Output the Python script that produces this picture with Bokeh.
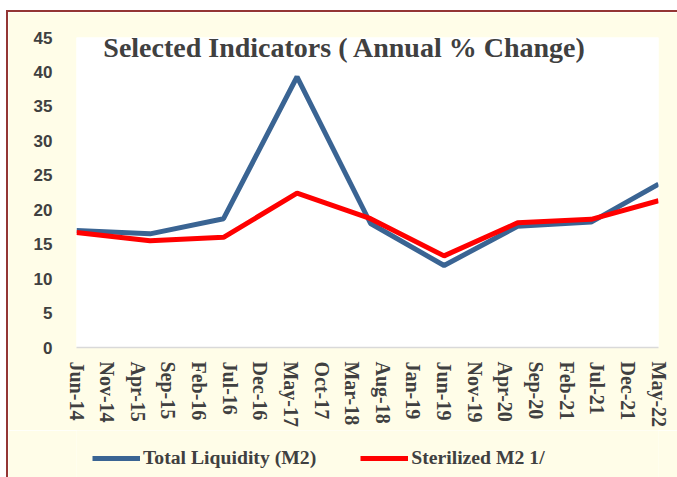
from bokeh.plotting import figure
from bokeh.layouts import column
from bokeh.models import (Range1d, FixedTicker, Label, Legend, LegendItem,
                          ColumnDataSource)
from bokeh.embed import file_html
from bokeh.resources import INLINE

# ---- data -------------------------------------------------------------
dates = ["Jun-14", "Jun-15", "Jun-16", "Jun-17", "Jun-18",
         "Jun-19", "Jun-20", "Jun-21", "May-22"]
total_liquidity = [17.0, 16.5, 18.7, 39.3, 18.0, 11.9, 17.6, 18.2, 23.7]
sterilized_m2 = [16.7, 15.5, 16.0, 22.4, 18.7, 13.3, 18.1, 18.6, 21.3]

tick_labels = ["Jun-14", "Nov-14", "Apr-15", "Sep-15", "Feb-16", "Jul-16",
               "Dec-16", "May-17", "Oct-17", "Mar-18", "Aug-18", "Jan-19",
               "Jun-19", "Nov-19", "Apr-20", "Sep-20", "Feb-21", "Jul-21",
               "Dec-21", "May-22"]
y_ticks = [0, 5, 10, 15, 20, 25, 30, 35, 40, 45]

series_names = ["Total Liquidity (M2)", "Sterilized M2 1/"]
title_text = "Selected Indicators ( Annual % Change)"

MONTHS = ["Jan", "Feb", "Mar", "Apr", "May", "Jun",
          "Jul", "Aug", "Sep", "Oct", "Nov", "Dec"]


def month_index(label, base="Jun-14"):
    def absm(s):
        m, y = s.split("-")
        return int(y) * 12 + MONTHS.index(m)
    return absm(label) - absm(base)


xs = [month_index(d) for d in dates]
tick_pos = [month_index(t) for t in tick_labels]

# ---- styles -----------------------------------------------------------
CREAM = "#FFFDE8"
TEXT = "#404040"
BLUE = "#3A6493"
RED = "#FF0000"
BORDER = "#943634"
SERIES_COLORS = [BLUE, RED]

W, H1, H2 = 669, 418, 47
p = figure(width=W, height=H1, output_backend="svg", toolbar_location=None,
           x_range=Range1d(tick_pos[0], tick_pos[-1]),
           y_range=Range1d(y_ticks[0], y_ticks[-1]),
           min_border_left=68, min_border_right=19,
           min_border_top=25, min_border_bottom=80)
p.border_fill_color = CREAM
p.background_fill_color = "white"
p.outline_line_color = None
p.xgrid.grid_line_color = None
p.ygrid.grid_line_color = None

# x axis
xa = p.xaxis[0]
xa.ticker = FixedTicker(ticks=tick_pos)
xa.major_label_overrides = {tp: lab for tp, lab in zip(tick_pos, tick_labels)}
xa.major_label_orientation = "vertical"
xa.major_label_text_font = "Liberation Serif"
xa.major_label_text_font_style = "bold"
xa.major_label_text_font_size = "20px"
xa.major_label_text_color = TEXT
xa.major_label_standoff = 8
xa.major_tick_line_color = None
xa.minor_tick_line_color = None
xa.axis_line_color = "#D9D9D9"
xa.axis_line_width = 1.5

# y axis
ya = p.yaxis[0]
ya.ticker = FixedTicker(ticks=y_ticks)
ya.major_label_text_font = "Liberation Sans"
ya.major_label_text_font_style = "bold"
ya.major_label_text_font_size = "17px"
ya.major_label_text_color = TEXT
ya.major_label_standoff = 18
ya.major_tick_line_color = None
ya.minor_tick_line_color = None
ya.axis_line_color = None

src = ColumnDataSource(dict(x=xs, tl=total_liquidity, sm=sterilized_m2))
p.line("x", "tl", source=src, line_color=BLUE, line_width=5)
p.line("x", "sm", source=src, line_color=RED, line_width=5)

# title inside the plot area
p.add_layout(Label(x=43.8, y=43.6, text=title_text, text_align="center",
                   text_baseline="alphabetic", text_font="Liberation Serif",
                   text_font_style="bold", text_font_size="28px",
                   text_color=TEXT))

# legend strip below the chart (series renderers lie outside its view)
lg = figure(width=W, height=H2, output_backend="svg", toolbar_location=None,
            x_axis_type=None, y_axis_type=None,
            x_range=Range1d(-1000, -999), y_range=Range1d(-1000, -999),
            min_border=0, min_border_left=0, min_border_right=0,
            min_border_top=0, min_border_bottom=0)
lg.border_fill_color = CREAM
lg.background_fill_color = CREAM
lg.outline_line_color = None
lg.xgrid.grid_line_color = None
lg.ygrid.grid_line_color = None
items = []
for name, col, key in zip(series_names, SERIES_COLORS, ["tl", "sm"]):
    r = lg.line("x", key, source=src, line_color=col, line_width=5)
    items.append(LegendItem(label=name, renderers=[r]))
legend = Legend(items=items, orientation="horizontal", location=(16, 8),
                glyph_width=48, glyph_height=20, label_height=20,
                label_standoff=3, spacing=44, padding=0, margin=0,
                background_fill_alpha=0, border_line_color=None,
                label_text_font="Liberation Serif", label_text_font_style="bold",
                label_text_font_size="19.7px", label_text_color=TEXT)
lg.add_layout(legend, "center")

layout = column(p, lg, spacing=0)
layout.styles = {"margin-left": "6px", "margin-top": "10px",
                 "border-left": f"2px solid {BORDER}",
                 "border-top": f"2px solid {BORDER}"}

with open("out.html", "w") as f:
    f.write(file_html(layout, INLINE))
